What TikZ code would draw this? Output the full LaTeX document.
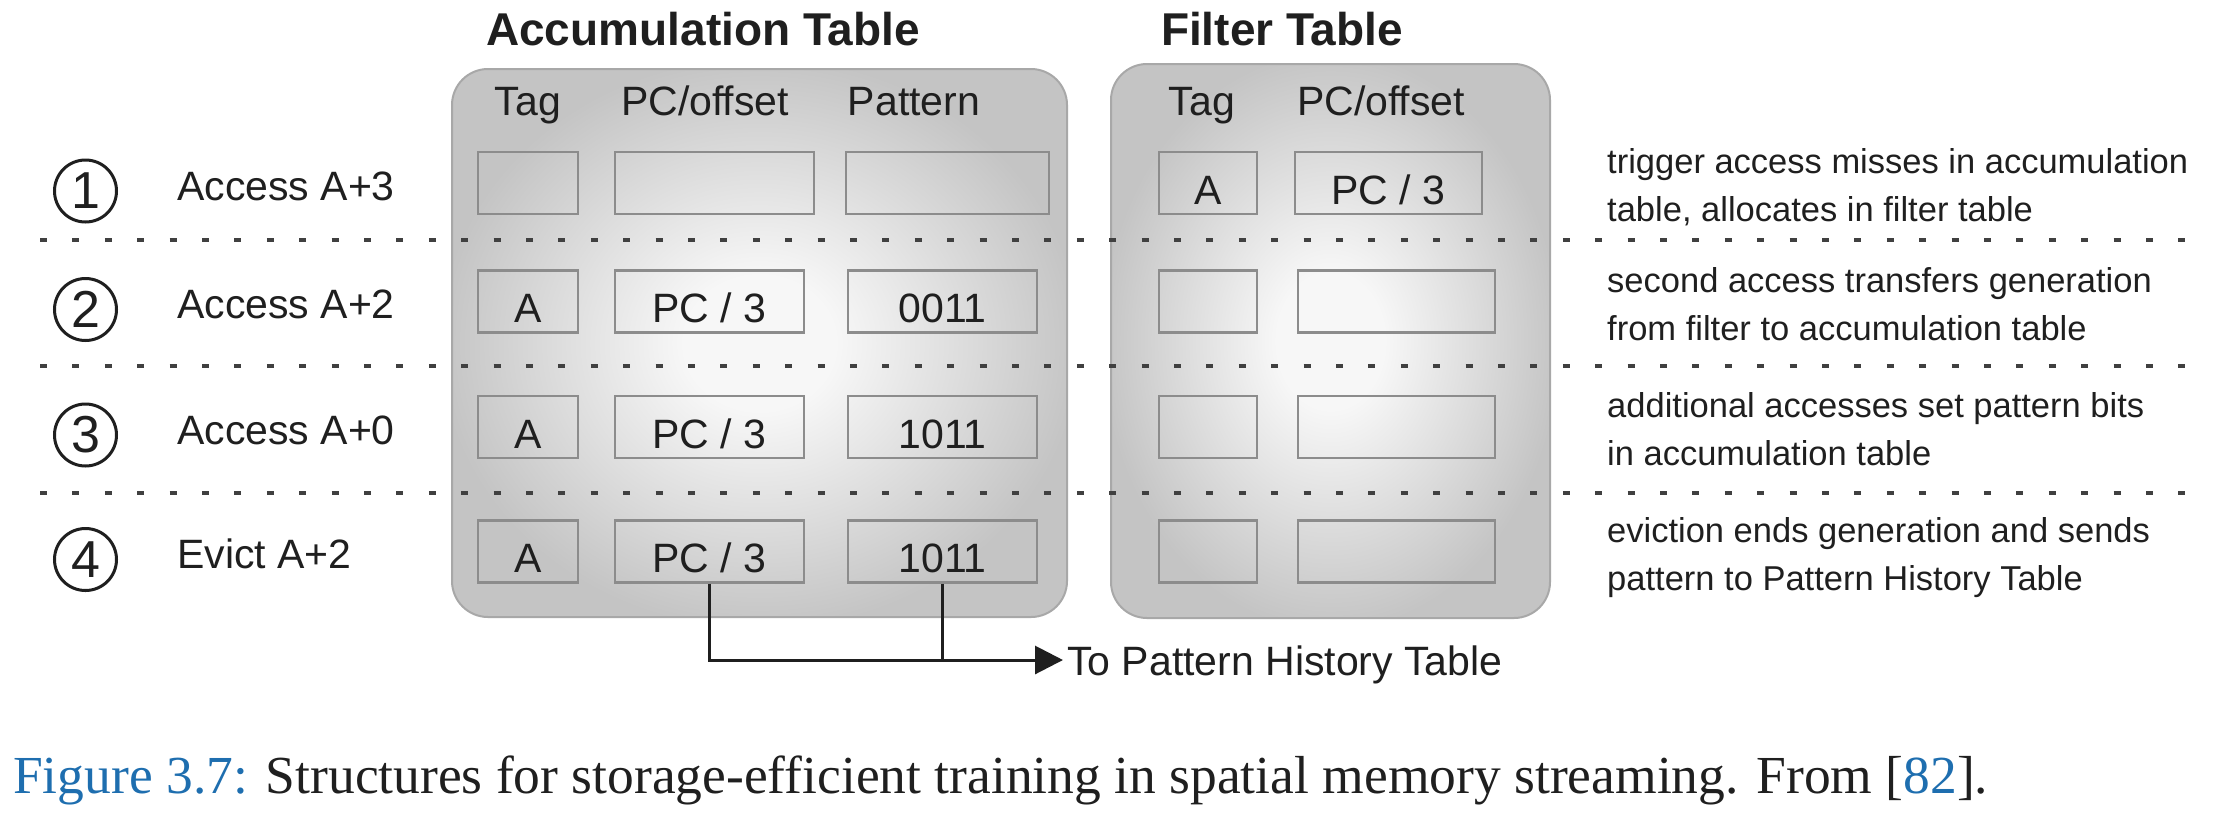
\documentclass[tikz,border=0pt]{standalone}
\usepackage{fontspec}
\setmainfont{Liberation Sans}
\newfontfamily\captionserif{Liberation Serif}
\usetikzlibrary{arrows.meta}
\definecolor{boxin}{gray}{0.97}
\definecolor{boxout}{gray}{0.77}
\definecolor{boxline}{gray}{0.66}
\definecolor{cellline}{gray}{0.55}
\definecolor{ink}{gray}{0.12}
\definecolor{capblue}{RGB}{30,110,175}
\pgfdeclareradialshading{tableshade}{\pgfpoint{0bp}{0bp}}{color(0bp)=(boxin); color(6bp)=(boxin); color(26bp)=(boxout); color(50bp)=(boxout)}

\begin{document}
\begin{tikzpicture}[x=1pt,y=-1pt,
  tablebox/.style={draw=boxline, line width=2pt, rounded corners=36pt, shade, shading=tableshade},
  cell/.style={draw=cellline, line width=2.6pt, rectangle, inner sep=0pt, minimum height=62pt,
    text height=42pt, text depth=0pt, font=\fontsize{41}{48}\selectfont, text=ink},
  colhead/.style={anchor=base, inner sep=0pt, font=\fontsize{41}{48}\selectfont, text=ink},
  tabletitle/.style={anchor=base, inner sep=0pt, font=\fontsize{46}{52}\selectfont\bfseries, text=ink},
  stepnum/.style={circle, draw=ink, line width=3pt, minimum size=62pt, inner sep=0pt,
    font=\fontsize{52}{60}\selectfont, text=ink},
  steplabel/.style={anchor=base west, inner sep=0pt, font=\fontsize{41}{48}\selectfont, text=ink},
  sidenote/.style={anchor=base west, inner sep=0pt, font=\fontsize{34.5}{40}\selectfont, text=ink},
  divider/.style={line width=4.5pt, draw=black!75, dash pattern=on 7pt off 25.4pt},
  conn/.style={line width=3pt, draw=ink}
]
\useasboundingbox (0,0) rectangle (2216,820);

% the two tables
\path[tablebox] (452,69) rectangle (1067,617);
\path[tablebox] (1111,64) rectangle (1550,618);

\node[tabletitle] (acctitle) at (703,45) {Accumulation Table};
\node[tabletitle] (filttitle) at (1282,45) {Filter Table};

% column headings
\node[colhead] (hatag) at (528,115) {Tag};
\node[colhead] (hapc)  at (705,115) {PC/offset};
\node[colhead] (hapat) at (914,115) {Pattern};
\node[colhead] (hftag) at (1202,115) {Tag};
\node[colhead] (hfpc)  at (1381,115) {PC/offset};

% row 1: trigger access
\node[cell, minimum width=100pt] (a1t) at (528,183) {};
\node[cell, minimum width=199pt] (a1p) at (714.5,183) {};
\node[cell, minimum width=203pt] (a1q) at (947.5,183) {};
\node[cell, minimum width=98pt]  (f1t) at (1208,183) {A};
\node[cell, minimum width=187pt] (f1p) at (1388.5,183) {PC / 3};

% row 2: second access
\node[cell, minimum width=100pt] (a2t) at (528,301.5) {A};
\node[cell, minimum width=189pt] (a2p) at (709.5,301.5) {PC / 3};
\node[cell, minimum width=189pt] (a2q) at (942.5,301.5) {0011};
\node[cell, minimum width=98pt]  (f2t) at (1208,301.5) {};
\node[cell, minimum width=197pt] (f2p) at (1396.5,301.5) {};

% row 3: additional accesses
\node[cell, minimum width=100pt] (a3t) at (528,427) {A};
\node[cell, minimum width=189pt] (a3p) at (709.5,427) {PC / 3};
\node[cell, minimum width=189pt] (a3q) at (942.5,427) {1011};
\node[cell, minimum width=98pt]  (f3t) at (1208,427) {};
\node[cell, minimum width=197pt] (f3p) at (1396.5,427) {};

% row 4: eviction
\node[cell, minimum width=100pt] (a4t) at (528,551.5) {A};
\node[cell, minimum width=189pt] (a4p) at (709.5,551.5) {PC / 3};
\node[cell, minimum width=189pt] (a4q) at (942.5,551.5) {1011};
\node[cell, minimum width=98pt]  (f4t) at (1208,551.5) {};
\node[cell, minimum width=197pt] (f4p) at (1396.5,551.5) {};

% row separators
\draw[divider] (40,240) -- (2196,240);
\draw[divider] (40,366) -- (2196,366);
\draw[divider] (40,493) -- (2196,493);

% step numbers and events
\node[stepnum] (s1) at (85.5,191) {1};
\node[stepnum] (s2) at (85.5,309.5) {2};
\node[stepnum] (s3) at (85.5,435) {3};
\node[stepnum] (s4) at (85.5,559.5) {4};
\node[steplabel] (e1) at (177,200) {Access A+3};
\node[steplabel] (e2) at (177,318.5) {Access A+2};
\node[steplabel] (e3) at (177,444) {Access A+0};
\node[steplabel] (e4) at (177,568.5) {Evict A+2};

% explanations
\node[sidenote] (n1a) at (1607,173.5) {trigger access misses in accumulation};
\node[sidenote] (n1b) at (1607,221.5) {table, allocates in filter table};
\node[sidenote] (n2a) at (1607,292) {second access transfers generation};
\node[sidenote] (n2b) at (1607,340) {from filter to accumulation table};
\node[sidenote] (n3a) at (1607,417.5) {additional accesses set pattern bits};
\node[sidenote] (n3b) at (1607,465.5) {in accumulation table};
\node[sidenote] (n4a) at (1607,542) {eviction ends generation and sends};
\node[sidenote] (n4b) at (1607,590) {pattern to Pattern History Table};

% evicted entry goes to the pattern history table
\coordinate (ptip) at (1063,660);
\draw[conn, -{Triangle[length=28pt,width=28pt]}] (a4p.south) |- (ptip);
\draw[conn] (a4q.south) -- (a4q.south |- ptip);
\node[steplabel] (pht) at (1067,675) {To Pattern History Table};

% caption
\node[anchor=base west, inner sep=0pt, font=\captionserif\fontsize{53.5}{60}\selectfont, text=ink] (cap) at (13,793)
  {\textcolor{capblue}{Figure 3.7:} Structures for storage-efficient training in spatial memory streaming. From [\textcolor{capblue}{82}].};
\end{tikzpicture}
\end{document}
